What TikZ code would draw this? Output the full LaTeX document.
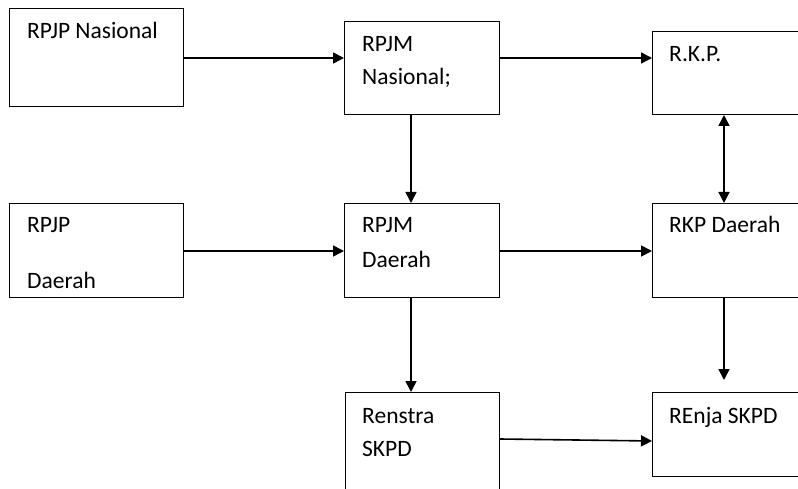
\documentclass[tikz,border=0pt]{standalone}
\usepackage{fontspec}
\setmainfont{Carlito}
\usetikzlibrary{arrows.meta,calc}
\begin{document}
\begin{tikzpicture}[x=1pt,y=-1pt,
  box/.style={draw=black,line width=1pt,rectangle,inner sep=0pt,anchor=north west},
  lbl/.style={anchor=base west,inner sep=0pt,font=\fontsize{23.5}{28}\selectfont},
  conn/.style={line width=1.6pt,-{Triangle[length=11pt,width=11pt]}},
  dconn/.style={line width=1.6pt,{Triangle[length=11pt,width=11pt]}-{Triangle[length=11pt,width=11pt]}}]
\useasboundingbox (0,0) rectangle (798,489);
\clip (0,0) rectangle (798,489);
% boxes
\node[box,minimum width=174pt,minimum height=98pt] (pn) at (9,8) {};
\node[box,minimum width=155pt,minimum height=93pt] (mn) at (344,21) {};
\node[box,minimum width=160pt,minimum height=83pt] (rkp) at (652,31) {};
\node[box,minimum width=174pt,minimum height=94pt] (pd) at (9,203) {};
\node[box,minimum width=155pt,minimum height=94pt] (md) at (344,203) {};
\node[box,minimum width=160pt,minimum height=94pt] (rd) at (652,203) {};
\node[box,minimum width=154pt,minimum height=110pt] (rs) at (345,392) {};
\node[box,minimum width=160pt,minimum height=84pt] (rj) at (652,392) {};
% texts
\node[lbl] (t1) at (27,39) {RPJP Nasional};
\node[lbl] (t2) at (362,52) {RPJM};
\node[lbl] (t3) at (362,85) {Nasional;};
\node[lbl] (t4) at (669,62) {R.K.P.};
\node[lbl] (t5) at (27,233) {RPJP};
\node[lbl] (t6) at (27,288) {Daerah};
\node[lbl] (t7) at (362,233) {RPJM};
\node[lbl] (t8) at (362,267) {Daerah};
\node[lbl] (t9) at (669,233) {RKP Daerah};
\node[lbl] (t10) at (362,423) {Renstra};
\node[lbl] (t11) at (362,456) {SKPD};
\node[lbl] (t12) at (669,423) {REnja SKPD};
% connector anchors
\coordinate (a1) at (pn.east |- 0,58);
\coordinate (a2) at (mn.west |- 0,58);
\coordinate (a3) at (mn.east |- 0,58);
\coordinate (a4) at (rkp.west |- 0,58);
\coordinate (v1) at (411,0);
\coordinate (v2) at (724,0);
\coordinate (h3) at (0,251);
\coordinate (r1) at (rs.east |- 0,439);
\coordinate (r2) at (rj.west |- 0,441);
\coordinate (rdend) at (724,380);
% connectors
\draw[conn] (a1) -- (a2);
\draw[conn] (a3) -- (a4);
\draw[conn] (pd.east |- h3) -- (md.west |- h3);
\draw[conn] (md.east |- h3) -- (rd.west |- h3);
\draw[conn] (v1 |- mn.south) -- (v1 |- md.north);
\draw[dconn] (v2 |- rkp.south) -- (v2 |- rd.north);
\draw[conn] (v1 |- md.south) -- (v1 |- rs.north);
\draw[conn] (v2 |- rd.south) -- (rdend);
\draw[conn] (r1) -- (r2);
\end{tikzpicture}
\end{document}
